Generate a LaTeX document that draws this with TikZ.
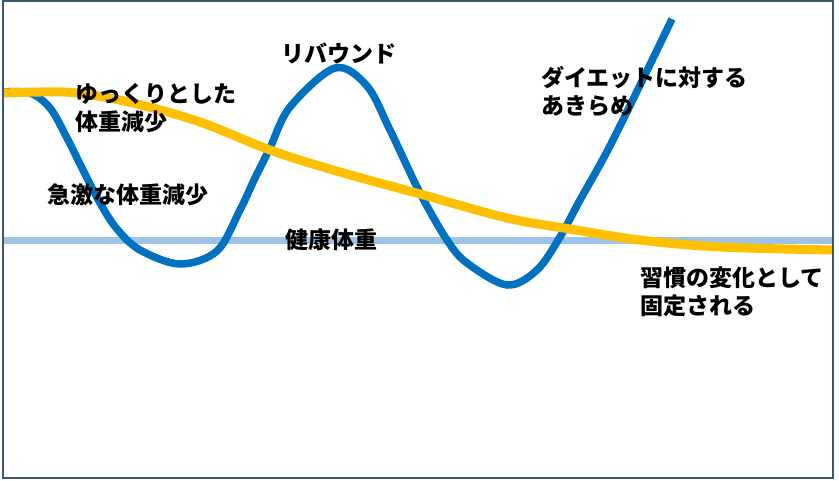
\documentclass[tikz,border=0pt]{standalone}
\usepackage{fontspec}
\newfontfamily\jpfont{Noto Sans CJK JP}
\definecolor{rapidblue}{HTML}{0070C0}
\definecolor{slowyellow}{HTML}{FFC000}
\definecolor{healthblue}{HTML}{9DC3E6}
\definecolor{framegray}{HTML}{3F5575}
\begin{document}
\begin{tikzpicture}[x=1pt,y=-1pt]
  \tikzstyle{note}=[anchor=west,inner sep=0pt,align=left,font=\jpfont\bfseries\fontsize{23}{28}\selectfont]
  \tikzstyle{curve}=[line width=7.5pt,line join=round]
  \useasboundingbox (0,0) rectangle (839,480);
  \fill[white] (0,0) rectangle (839,480);
  % healthy weight line
  \draw[line width=7pt,healthblue] (3,240) -- (833,240);
  % rapid loss and rebound
  \draw[curve,rapidblue] plot[smooth,tension=0.55] coordinates {
    (3,92) (30,93) (50,108) (67,138) (83,170) (100,203) (117,229) (140,250)
    (180,264) (217,251) (240,210) (255,178) (270,148) (290,107) (335,68)
    (367,86) (390,130) (420,193) (447,240) (467,263) (507,285) (537,270)
    (560,237) (580,200) (613,140) (672,19)};
  % slow loss
  \draw[curve,line width=9pt,slowyellow] plot[smooth,tension=0.55] coordinates {
    (3,93) (40,92) (77,93) (133,103) (200,122) (270,150) (333,170)
    (420,194) (507,218) (570,229) (640,240) (720,247) (833,250)};
  \draw[line width=2.5pt,framegray] (3,1) rectangle (833,478);
  \node[note] (rebound) at (281,53) {リバウンド};
  \node[note] (slow) at (75,108.5) {ゆっくりとした\\体重減少};
  \node[note] (rapid) at (47,195) {急激な体重減少};
  \node[note] (healthy) at (285,240) {健康体重};
  \node[note] (giveup) at (541,91.5) {ダイエットに対する\\あきらめ};
  \node[note] (habit) at (640,291.5) {習慣の変化として\\固定される};
\end{tikzpicture}
\end{document}
